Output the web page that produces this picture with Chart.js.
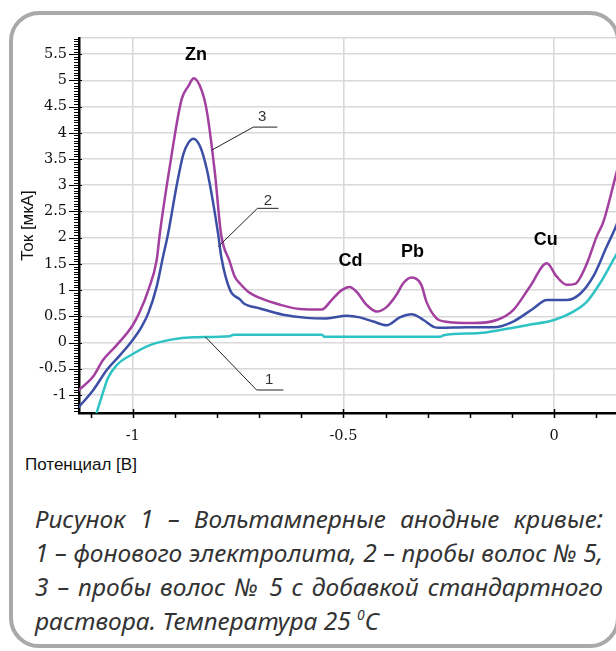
<!DOCTYPE html>
<html>
<head>
<meta charset="utf-8">
<script src="https://cdn.jsdelivr.net/npm/chart.js@4.4.0/dist/chart.umd.min.js"></script>
<style>
  html, body { margin: 0; padding: 0; background: #fff; }
  body { width: 616px; height: 651px; position: relative; overflow: hidden; }
  .frame { position: absolute; left: 9px; top: 11px; width: 611px; height: 637px;
           border: 4px solid #a9a9a9; border-radius: 30px; box-sizing: border-box; }
  #wrap { position: absolute; left: 0; top: 0; width: 616px; height: 450px; }
  .xtitle { position: absolute; left: 25px; top: 455px; font: 17px "Liberation Sans", sans-serif; color: #111; }
  .caption { position: absolute; left: 35px; top: 502px; width: 568px;
             font: italic 24.5px "Noto Sans", sans-serif; color: #333; line-height: 34px; }
  .caption div { height: 34px; text-align: justify; text-align-last: justify; white-space: nowrap; }
  .caption div.last { text-align-last: left; }
  .caption sup { font-size: 14px; line-height: 0; vertical-align: baseline; position: relative; top: -0.7em; }
</style>
</head>
<body>
<div class="frame"></div>
<div id="wrap"><canvas id="chart1" width="616" height="450"></canvas></div>
<div class="xtitle">Потенциал [В]</div>
<div class="caption">
  <div>Рисунок 1 – Вольтамперные анодные кривые:</div>
  <div>1 – фонового электролита, 2 – пробы волос № 5,</div>
  <div>3 – пробы волос № 5 с добавкой стандартного</div>
  <div class="last">раствора. Температура 25 <sup>0</sup>С</div>
</div>
<script>
// кривая 1 - фоновый электролит
var bgV = [-1.090, -1.074, -1.059, -1.038, -1.000, -0.959, -0.912, -0.856, -0.770, -0.760, -0.698, -0.551, -0.545,
           -0.270, -0.262, -0.176, -0.128, -0.065, 0.000, 0.046, 0.078, 0.109, 0.141, 0.160];
var bgI = [-1.45, -1.04, -0.68, -0.43, -0.22, -0.05, 0.05, 0.10, 0.12, 0.15, 0.15, 0.15, 0.11,
           0.11, 0.14, 0.18, 0.24, 0.33, 0.43, 0.59, 0.78, 1.13, 1.58, 1.85];

// кривая 2 - проба волос
var sampleV = [-1.130, -1.094, -1.062, -1.030, -1.000, -0.979, -0.963, -0.943, -0.928, -0.916, -0.896, -0.880, -0.868,
               -0.856, -0.840, -0.824, -0.809, -0.796, -0.790, -0.769, -0.745, -0.737, -0.698, -0.643, -0.587, -0.540,
               -0.492, -0.461, -0.429, -0.397, -0.366, -0.338, -0.310, -0.286, -0.271, -0.207, -0.144, -0.097, -0.049,
               -0.017, 0.030, 0.062, 0.093, 0.125, 0.145, 0.160];
var sampleI = [-1.25, -0.91, -0.53, -0.24, 0.05, 0.30, 0.56, 1.07, 1.64, 2.08, 2.98, 3.59, 3.81,
               3.89, 3.74, 3.30, 2.66, 2.00, 1.64, 1.00, 0.82, 0.75, 0.65, 0.53, 0.47, 0.46,
               0.51, 0.48, 0.40, 0.33, 0.48, 0.54, 0.43, 0.30, 0.28, 0.29, 0.29, 0.40, 0.65,
               0.81, 0.81, 0.93, 1.26, 1.83, 2.18, 2.50];

// кривая 3 - проба с добавкой стандарта
var spikeV = [-1.130, -1.094, -1.070, -1.038, -1.000, -0.983, -0.963, -0.943, -0.935, -0.912, -0.884, -0.868, -0.855,
              -0.836, -0.824, -0.805, -0.790, -0.770, -0.758, -0.745, -0.726, -0.698, -0.650, -0.603, -0.551, -0.528,
              -0.504, -0.485, -0.469, -0.445, -0.421, -0.397, -0.374, -0.358, -0.338, -0.315, -0.303, -0.279, -0.260,
              -0.192, -0.136, -0.097, -0.057, -0.017, 0.006, 0.030, 0.050, 0.078, 0.101, 0.117, 0.145, 0.160];
var spikeI = [-0.92, -0.65, -0.33, -0.05, 0.33, 0.59, 1.00, 1.58, 2.12, 3.36, 4.64, 4.89, 5.04,
              4.80, 4.41, 3.24, 2.05, 1.55, 1.26, 1.12, 0.97, 0.85, 0.72, 0.64, 0.63, 0.81,
              1.00, 1.06, 0.97, 0.72, 0.59, 0.68, 0.91, 1.13, 1.24, 1.10, 0.78, 0.46, 0.40,
              0.37, 0.43, 0.62, 1.07, 1.51, 1.26, 1.10, 1.12, 1.51, 2.02, 2.30, 3.14, 3.60];

var xTickValues = [-1, -0.5, 0];
var yTickValues = [-1, -0.5, 0, 0.5, 1, 1.5, 2, 2.5, 3, 3.5, 4, 4.5, 5, 5.5];
var xMin = -1.1275, xMax = 0.147;
var yMin = -1.345, yMax = 5.81;

// подписи пиков
var peakNames = ['Zn', 'Cd', 'Pb', 'Cu'];
var peakNameV = [-0.850, -0.483, -0.336, -0.020];
var peakNameI = [5.49, 1.55, 1.72, 1.95];

// выноски с номерами кривых
var curveNums = ['3', '2', '1'];
var leaderV = [[-0.8125, -0.7137, -0.6568], [-0.797, -0.704, -0.654], [-0.828, -0.706, -0.6425]];
var leaderI = [[3.67, 4.11, 4.11], [1.83, 2.56, 2.56], [0.11, -0.906, -0.906]];
var numV = [-0.693, -0.679, -0.676];
var numI = [4.30, 2.70, -0.716];

function toPoints(xs, ys) {
  return xs.map(function (x, i) { return { x: x, y: ys[i] }; });
}

var axisTicks = {
  id: 'axisTicks',
  afterDraw: function (chart) {
    var ctx = chart.ctx, a = chart.chartArea, x = chart.scales.x, y = chart.scales.y;
    ctx.save();
    ctx.strokeStyle = '#000';
    ctx.lineWidth = 1;
    ctx.beginPath();
    for (var k = Math.ceil(yMin / 0.05); k <= Math.floor(yMax / 0.05); k++) {
      var py = Math.round(y.getPixelForValue(k * 0.05)) + 0.5;
      if (k % 10 === 0) { ctx.moveTo(a.left - 10, py); ctx.lineTo(a.left + 3, py); }
      else { ctx.moveTo(a.left - 5, py); ctx.lineTo(a.left, py); }
    }
    ctx.stroke();
    ctx.lineWidth = 1.5;
    ctx.beginPath();
    for (var j = Math.ceil(xMin / 0.1); j <= Math.floor(xMax / 0.1); j++) {
      var px = Math.round(x.getPixelForValue(j * 0.1)) + 0.5;
      if (j % 5 === 0) { ctx.moveTo(px, a.bottom - 4); ctx.lineTo(px, a.bottom + 5); }
      else { ctx.moveTo(px, a.bottom); ctx.lineTo(px, a.bottom + 5); }
    }
    ctx.stroke();
    ctx.restore();
  }
};

var notes = {
  id: 'notes',
  afterDatasetsDraw: function (chart) {
    var ctx = chart.ctx, x = chart.scales.x, y = chart.scales.y;
    ctx.save();
    ctx.strokeStyle = '#222';
    ctx.lineWidth = 1;
    for (var i = 0; i < curveNums.length; i++) {
      ctx.beginPath();
      for (var p = 0; p < leaderV[i].length; p++) {
        var px = x.getPixelForValue(leaderV[i][p]), py = y.getPixelForValue(leaderI[i][p]);
        if (p === 0) ctx.moveTo(px, py); else ctx.lineTo(px, py);
      }
      ctx.stroke();
      ctx.fillStyle = '#333';
      ctx.font = '15px "Liberation Sans"';
      ctx.textAlign = 'center';
      ctx.textBaseline = 'middle';
      ctx.fillText(curveNums[i], x.getPixelForValue(numV[i]), y.getPixelForValue(numI[i]));
    }
    ctx.fillStyle = '#000';
    ctx.font = 'bold 18px "Liberation Sans"';
    for (var n = 0; n < peakNames.length; n++) {
      ctx.fillText(peakNames[n], x.getPixelForValue(peakNameV[n]), y.getPixelForValue(peakNameI[n]));
    }
    ctx.restore();
  }
};

var gridColor = '#d9d9d9';
var tickFont = { family: 'DejaVu Serif', size: 14.5 };

const ctx1 = document.getElementById('chart1');
const lineChart1 = new Chart(ctx1, {
  type: 'line',
  data: {
    datasets: [{
      label: '1',
      data: toPoints(bgV, bgI),
      borderColor: '#2fc2c4',
      borderWidth: 2.5,
      pointRadius: 0,
      cubicInterpolationMode: 'monotone'
    }, {
      label: '2',
      data: toPoints(sampleV, sampleI),
      borderColor: '#3b4fa6',
      borderWidth: 2.5,
      pointRadius: 0,
      cubicInterpolationMode: 'monotone'
    }, {
      label: '3',
      data: toPoints(spikeV, spikeI),
      borderColor: '#a23f9f',
      borderWidth: 2.5,
      pointRadius: 0,
      cubicInterpolationMode: 'monotone'
    }]
  },
  options: {
    responsive: false,
    animation: false,
    layout: { padding: { top: 38, left: 0, right: 0, bottom: 0 } },
    plugins: { legend: { display: false }, tooltip: { enabled: false } },
    scales: {
      x: {
        type: 'linear',
        min: xMin,
        max: xMax,
        afterBuildTicks: function (s) { s.ticks = xTickValues.map(function (v) { return { value: v }; }); },
        afterFit: function (s) { s.height = 37; },
        grid: { color: gridColor, lineWidth: 1.6, drawTicks: false },
        border: { color: '#000', width: 2.5 },
        ticks: { font: tickFont, color: '#111', padding: 15, maxRotation: 0,
                 callback: function (v) { return String(v); } }
      },
      y: {
        type: 'linear',
        min: yMin,
        max: yMax,
        afterBuildTicks: function (s) { s.ticks = yTickValues.concat([yMax]).map(function (v) { return { value: v }; }); },
        afterFit: function (s) { s.width = 79; },
        grid: { color: gridColor, lineWidth: 1.6, drawTicks: false },
        border: { color: '#000', width: 2.5 },
        title: { display: true, text: 'Ток [мкА]', color: '#111',
                 font: { family: 'Liberation Sans', size: 17 }, padding: { top: 18, bottom: 0 } },
        ticks: { font: tickFont, color: '#111', padding: 12,
                 callback: function (v) { return v === yMax ? '' : String(v); } }
      }
    }
  },
  plugins: [axisTicks, notes]
});
</script>
</body>
</html>
